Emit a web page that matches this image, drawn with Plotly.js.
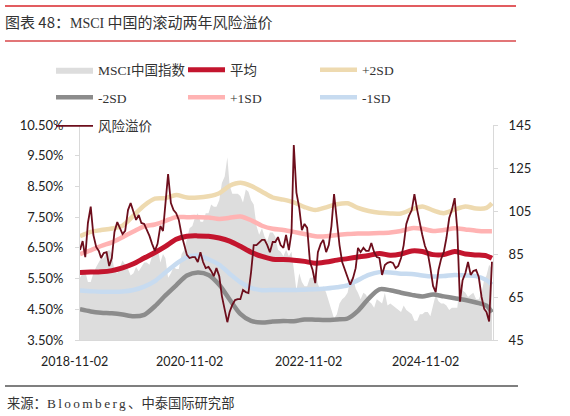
<!DOCTYPE html>
<html>
<head>
<meta charset="utf-8">
<script src="https://cdn.plot.ly/plotly-3.0.1.min.js"></script>
<style>html,body{margin:0;padding:0;background:#fff;}#chart{width:570px;height:416px;}</style>
</head>
<body>
<div id="chart"></div>
<script>
// Half-monthly dates for the risk premium and MSCI China index
const halfMonthDates = [
"2018-11-01","2018-11-16","2018-12-01","2018-12-16",
"2019-01-01","2019-01-16","2019-02-01","2019-02-16","2019-03-01","2019-03-16","2019-04-01","2019-04-16","2019-05-01","2019-05-16","2019-06-01","2019-06-16",
"2019-07-01","2019-07-16","2019-08-01","2019-08-16","2019-09-01","2019-09-16","2019-10-01","2019-10-16","2019-11-01","2019-11-16","2019-12-01","2019-12-16",
"2020-01-01","2020-01-16","2020-02-01","2020-02-16","2020-03-01","2020-03-16","2020-04-01","2020-04-16","2020-05-01","2020-05-16","2020-06-01","2020-06-16",
"2020-07-01","2020-07-16","2020-08-01","2020-08-16","2020-09-01","2020-09-16","2020-10-01","2020-10-16","2020-11-01","2020-11-16","2020-12-01","2020-12-16",
"2021-01-01","2021-01-16","2021-02-01","2021-02-16","2021-03-01","2021-03-16","2021-04-01","2021-04-16","2021-05-01","2021-05-16","2021-06-01","2021-06-16",
"2021-07-01","2021-07-16","2021-08-01","2021-08-16","2021-09-01","2021-09-16","2021-10-01","2021-10-16","2021-11-01","2021-11-16","2021-12-01","2021-12-16",
"2022-01-01","2022-01-16","2022-02-01","2022-02-16","2022-03-01","2022-03-16","2022-04-01","2022-04-16","2022-05-01","2022-05-16","2022-06-01","2022-06-16",
"2022-07-01","2022-07-16","2022-08-01","2022-08-16","2022-09-01","2022-09-16","2022-10-01","2022-10-16","2022-11-01","2022-11-16","2022-12-01","2022-12-16",
"2023-01-01","2023-01-16","2023-02-01","2023-02-16","2023-03-01","2023-03-16","2023-04-01","2023-04-16","2023-05-01","2023-05-16","2023-06-01","2023-06-16",
"2023-07-01","2023-07-16","2023-08-01","2023-08-16","2023-09-01","2023-09-16","2023-10-01","2023-10-16","2023-11-01","2023-11-16","2023-12-01","2023-12-16",
"2024-01-01","2024-01-16","2024-02-01","2024-02-16","2024-03-01","2024-03-16","2024-04-01","2024-04-16","2024-05-01","2024-05-16","2024-06-01","2024-06-16",
"2024-07-01","2024-07-16","2024-08-01","2024-08-16","2024-09-01","2024-09-16","2024-10-01","2024-10-16","2024-11-01","2024-11-16","2024-12-01","2024-12-16",
"2025-01-01","2025-01-16","2025-02-01","2025-02-16","2025-03-01","2025-03-16","2025-04-01"
];

// MSCI China index (right axis)
const msciIndex = [
74,76,77,72,72,76,79,81,83,83,
86,87,85,77,76,79,82,80,78,75,
76,79,77,79,81,81,80,84,86,88,
81,85,83,74,76,79,78,78,85,87,
92,97,98,102,104,100,100,104,104,108,
107,107,110,118,121,130,117,113,113,113,
112,109,115,114,110,108,98,94,97,93,
91,95,95,93,87,86,84,87,84,86,
78,68,76,72,70,70,74,74,77,71,
68,70,67,63,59,55,57,62,64,65,
67,73,74,69,67,64,67,66,63,62,
60,64,63,62,67,61,62,61,60,59,
58,61,59,58,57,54,54,57,57,58,
58,56,61,66,63,62,62,61,59,60,
60,60,72,68,67,65,66,67,64,64,
67,73,75,80,78
];

// Rolling two-year risk premium, % (left axis)
const riskPremium = [
6.43,6.72,6.20,7.31,7.84,6.92,6.53,6.40,6.17,6.33,
6.36,5.91,6.17,7.02,7.34,7.11,6.95,7.05,7.73,7.96,
7.70,7.41,7.57,7.31,7.28,7.11,6.89,6.63,6.40,6.63,
7.21,7.05,7.90,8.90,7.96,7.73,7.63,7.41,6.92,6.59,
6.27,6.17,6.20,6.20,6.04,6.36,6.04,5.84,5.88,5.75,
5.58,5.84,5.58,4.93,4.54,4.08,4.41,4.64,4.80,4.83,
4.83,5.13,5.06,5.03,5.71,6.59,6.59,6.69,6.76,6.76,
6.59,6.36,6.69,6.69,6.85,6.59,6.50,6.92,6.43,7.00,
9.85,8.30,7.80,7.08,7.28,7.15,6.04,5.78,5.35,6.36,
6.63,6.76,6.36,6.59,7.21,8.25,7.34,6.59,6.04,5.81,
5.52,5.30,5.52,5.84,6.50,6.36,6.50,6.40,6.40,6.66,
6.36,6.20,6.17,5.62,5.94,6.01,6.04,6.01,5.84,5.91,
6.17,6.59,7.28,7.54,7.73,8.25,7.73,7.24,6.92,6.56,
6.33,5.84,5.26,5.06,5.78,6.14,6.36,6.82,7.47,7.73,
8.12,7.08,4.75,5.45,5.68,6.04,5.62,5.75,5.78,5.55,
4.90,4.51,4.41,4.10,6.05
];

// Bi-monthly dates for the mean and SD bands
const bandDates = [
"2018-11-01","2019-01-01","2019-03-01","2019-05-01","2019-07-01","2019-09-01","2019-11-01",
"2020-01-01","2020-03-01","2020-05-01","2020-07-01","2020-09-01","2020-11-01",
"2021-01-01","2021-03-01","2021-05-01","2021-07-01","2021-09-01","2021-11-01",
"2022-01-01","2022-03-01","2022-05-01","2022-07-01","2022-09-01","2022-11-01",
"2023-01-01","2023-03-01","2023-05-01","2023-07-01","2023-09-01","2023-11-01",
"2024-01-01","2024-03-01","2024-05-01","2024-07-01","2024-09-01","2024-11-01",
"2025-01-01","2025-03-01","2025-04-01"
];
const meanLine = [5.70,5.71,5.72,5.76,5.85,5.98,6.17,6.35,6.55,6.78,6.88,6.89,6.88,6.82,6.72,6.55,6.36,6.22,6.13,6.12,6.10,6.06,6.00,6.04,6.10,6.15,6.20,6.25,6.32,6.26,6.30,6.40,6.38,6.28,6.28,6.38,6.30,6.27,6.24,6.16];
const plus2SD  = [6.88,7.02,7.08,7.13,7.22,7.55,7.88,8.10,8.12,8.22,8.14,8.14,8.18,8.28,8.52,8.62,8.52,8.33,8.14,8.07,7.98,7.83,7.73,7.82,7.92,7.95,7.80,7.70,7.64,7.62,7.62,7.75,7.85,7.72,7.63,7.75,7.85,7.78,7.80,7.95];
const plus1SD  = [6.30,6.42,6.56,6.68,6.85,7.03,7.20,7.26,7.38,7.50,7.50,7.50,7.49,7.44,7.48,7.52,7.40,7.22,7.12,7.08,7.02,6.95,6.88,6.88,6.92,6.95,6.97,6.97,6.98,7.00,7.05,7.14,7.12,7.05,7.08,7.14,7.10,7.06,7.04,7.04];
const minus1SD = [5.11,5.09,5.07,5.07,5.08,5.13,5.24,5.42,5.70,5.98,6.20,6.25,6.13,5.95,5.66,5.38,5.20,5.12,5.13,5.13,5.13,5.14,5.15,5.18,5.22,5.28,5.45,5.62,5.71,5.70,5.66,5.65,5.60,5.57,5.58,5.62,5.60,5.58,5.45,5.30];
const minus2SD = [4.50,4.43,4.39,4.37,4.33,4.27,4.32,4.60,4.95,5.28,5.60,5.70,5.62,5.30,4.82,4.35,4.12,4.07,4.10,4.12,4.11,4.17,4.16,4.15,4.17,4.20,4.45,4.85,5.15,5.12,5.04,4.97,4.92,4.98,4.92,4.86,4.80,4.72,4.62,4.40];

// Tick labels
const xTickLabels = ["2018-11-02","2020-11-02","2022-11-02","2024-11-02"];
const xTickPos = [-0.0145, 0.2663, 0.5521, 0.8354];

const bandStyle = (color, w) => ({color: color, width: w, shape: 'spline', smoothing: 0.8});

const traces = [
  {x: halfMonthDates, y: msciIndex, name: 'MSCI中国指数', type: 'scatter', mode: 'lines',
   fill: 'tozeroy', fillcolor: '#DDDDDD', line: {color: '#DDDDDD', width: 0},
   yaxis: 'y', legend: 'legend', hoverinfo: 'skip'},
  {x: bandDates, y: meanLine, name: '平均', type: 'scatter', mode: 'lines',
   line: bandStyle('#C3152E', 5), yaxis: 'y2', legend: 'legend', hoverinfo: 'skip'},
  {x: bandDates, y: plus2SD, name: '+2SD', type: 'scatter', mode: 'lines',
   line: bandStyle('#EEDAB0', 4.5), yaxis: 'y2', legend: 'legend', hoverinfo: 'skip'},
  {x: bandDates, y: minus2SD, name: '-2SD', type: 'scatter', mode: 'lines',
   line: bandStyle('#8C8C8C', 4.5), yaxis: 'y2', legend: 'legend2', hoverinfo: 'skip'},
  {x: bandDates, y: plus1SD, name: '+1SD', type: 'scatter', mode: 'lines',
   line: bandStyle('#FFB3B3', 4.5), yaxis: 'y2', legend: 'legend2', hoverinfo: 'skip'},
  {x: bandDates, y: minus1SD, name: '-1SD', type: 'scatter', mode: 'lines',
   line: bandStyle('#C7DBF0', 4.5), yaxis: 'y2', legend: 'legend2', hoverinfo: 'skip'},
  {x: halfMonthDates, y: riskPremium, name: '风险溢价', type: 'scatter', mode: 'lines',
   line: {color: '#6D0E1C', width: 1.8}, yaxis: 'y2', legend: 'legend3', hoverinfo: 'skip'}
];

const legendFont = {family: '"Liberation Serif", "Noto Sans CJK SC", serif', size: 13.5, color: '#333'};
const legendBase = {orientation: 'h', xanchor: 'left', yanchor: 'middle', x: -0.0702,
  entrywidth: 80, entrywidthmode: 'pixels', itemwidth: 37, font: legendFont,
  bgcolor: 'rgba(0,0,0,0)', borderwidth: 0, traceorder: 'normal', itemclick: false, itemdoubleclick: false};

const annotations = xTickLabels.map((t, i) => ({
  text: t, xref: 'paper', yref: 'paper', x: xTickPos[i], y: -0.1023,
  xanchor: 'center', yanchor: 'middle', showarrow: false,
  font: {family: 'Lato, sans-serif', size: 12.5, color: '#222'}
}));
annotations.push({
  text: '来源：<span style="font-family:\'Liberation Serif\';letter-spacing:2.4px">Bloomberg</span>、中泰国际研究部',
  xref: 'paper', yref: 'paper', x: -0.1816, y: -0.293, xanchor: 'left', yanchor: 'middle',
  showarrow: false, font: {family: '"Noto Sans CJK SC", sans-serif', size: 13.3, color: '#333'}
});

const layout = {
  width: 570, height: 416,
  margin: {l: 80, r: 77, t: 125, b: 76, pad: 0},
  paper_bgcolor: '#ffffff', plot_bgcolor: '#ffffff',
  font: {family: 'Lato, "Noto Sans CJK SC", sans-serif', size: 13, color: '#222'},
  title: {
    text: '图表 48：<span style="font-family:\'Liberation Serif\';font-size:14px">MSCI</span> 中国的滚动两年风险溢价',
    xref: 'container', yref: 'container', x: 5/570, xanchor: 'left', y: 1 - 23/416, yanchor: 'middle',
    font: {family: '"Noto Sans CJK SC", sans-serif', size: 15, color: '#333'}
  },
  showlegend: true,
  legend: Object.assign({}, legendBase, {y: 1.2558}),
  legend2: Object.assign({}, legendBase, {y: 1.1279}),
  legend3: Object.assign({}, legendBase, {y: 0.9953}),
  xaxis: {type: 'date', range: ['2018-11-01', '2025-04-07'], showgrid: false, zeroline: false,
    showline: true, linecolor: '#D9D9D9', linewidth: 1, showticklabels: false, ticks: ''},
  yaxis: {range: [45, 145], tick0: 45, dtick: 20, side: 'right', showgrid: false, zeroline: false,
    showline: true, linecolor: '#D9D9D9', linewidth: 1, ticks: 'outside', ticklen: 4, tickcolor: '#D9D9D9',
    ticklabelstandoff: 8, tickfont: {family: 'Lato, sans-serif', size: 13, color: '#222'}},
  yaxis2: {range: [3.5, 10.5], tick0: 3.5, dtick: 1, overlaying: 'y', side: 'left',
    tickformat: '.2f', ticksuffix: '%', showgrid: false, zeroline: false,
    showline: true, linecolor: '#D9D9D9', linewidth: 1, ticks: 'outside', ticklen: 4, tickcolor: '#D9D9D9',
    ticklabelstandoff: 9, tickfont: {family: 'Lato, sans-serif', size: 13, color: '#222'}},
  shapes: [
    {type: 'line', xref: 'paper', yref: 'paper', x0: -0.1816, x1: 1.0557, y0: 1.5535, y1: 1.5535,
     line: {color: '#D8262B', width: 1.5}},
    {type: 'line', xref: 'paper', yref: 'paper', x0: -0.1816, x1: 1.0557, y0: 1.3907, y1: 1.3907,
     line: {color: '#D9474A', width: 1.3}},
    {type: 'line', xref: 'paper', yref: 'paper', x0: -0.1816, x1: 1.0605, y0: -0.214, y1: -0.214,
     line: {color: '#000000', width: 1.2}}
  ],
  annotations: annotations
};

Plotly.newPlot('chart', traces, layout, {displayModeBar: false, staticPlot: true});
</script>
</body>
</html>
